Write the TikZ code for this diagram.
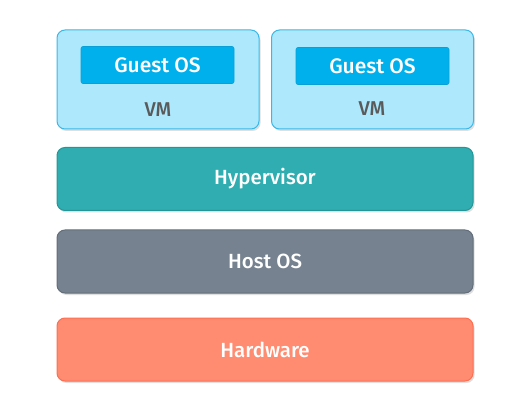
\documentclass[tikz,border=0pt]{standalone}
\usepackage{fontspec}
\setmainfont{Fira Sans}[UprightFont=* Medium]
\usetikzlibrary{shadows}
\definecolor{vmfill}{RGB}{173,232,252}
\definecolor{vmline}{RGB}{60,184,232}
\definecolor{guestfill}{RGB}{0,176,236}
\definecolor{guestline}{RGB}{10,160,215}
\definecolor{vmtext}{RGB}{90,90,90}
\definecolor{hypfill}{RGB}{48,173,176}
\definecolor{hypline}{RGB}{36,150,152}
\definecolor{hostfill}{RGB}{118,130,143}
\definecolor{hostline}{RGB}{100,110,122}
\definecolor{hwfill}{RGB}{255,139,112}
\definecolor{hwline}{RGB}{255,110,80}
\begin{document}
\begin{tikzpicture}[x=1pt, y=-1pt,
        softshadow/.style={drop shadow={opacity=.25, shadow xshift=1.5pt, shadow yshift=-2pt}},
        layer/.style={draw, line width=1pt, rounded corners=8pt, inner sep=0pt,
            minimum width=416pt, minimum height=63pt, text=white,
            font=\fontsize{20.5}{24}\selectfont, softshadow},
        vmbox/.style={draw=vmline, fill=vmfill, line width=1pt, rounded corners=8pt,
            inner sep=0pt, minimum width=202pt, minimum height=99pt, softshadow},
        guestbox/.style={draw=guestline, fill=guestfill, line width=.6pt, rounded corners=2pt,
            inner sep=0pt, minimum width=153pt, minimum height=37pt, text=white,
            font=\fontsize{21}{24}\selectfont},
        vmlabel/.style={text=vmtext, font=\fontsize{20}{23}\selectfont}]
        \useasboundingbox (0,0) rectangle (528,417);

        % virtual machines
        \node[vmbox] (vm1) at (158, 79.5) {};
        \node[vmbox] (vm2) at (372.5, 79.5) {};
        \node[guestbox] (guest1) at (157.5, 65) {Guest OS};
        \node[guestbox] (guest2) at (372.5, 66) {Guest OS};
        \node[vmlabel] (vmtext1) at (158, 110) {VM};
        \node[vmlabel] (vmtext2) at (372, 109) {VM};

        % layers below
        \node[layer, draw=hypline, fill=hypfill] (hypervisor) at (265, 179) {Hypervisor};
        \node[layer, draw=hostline, fill=hostfill] (hostos) at (265, 261.5) {Host OS};
        \node[layer, draw=hwline, fill=hwfill] (hardware) at (265, 349.5) {Hardware};
\end{tikzpicture}
\end{document}
